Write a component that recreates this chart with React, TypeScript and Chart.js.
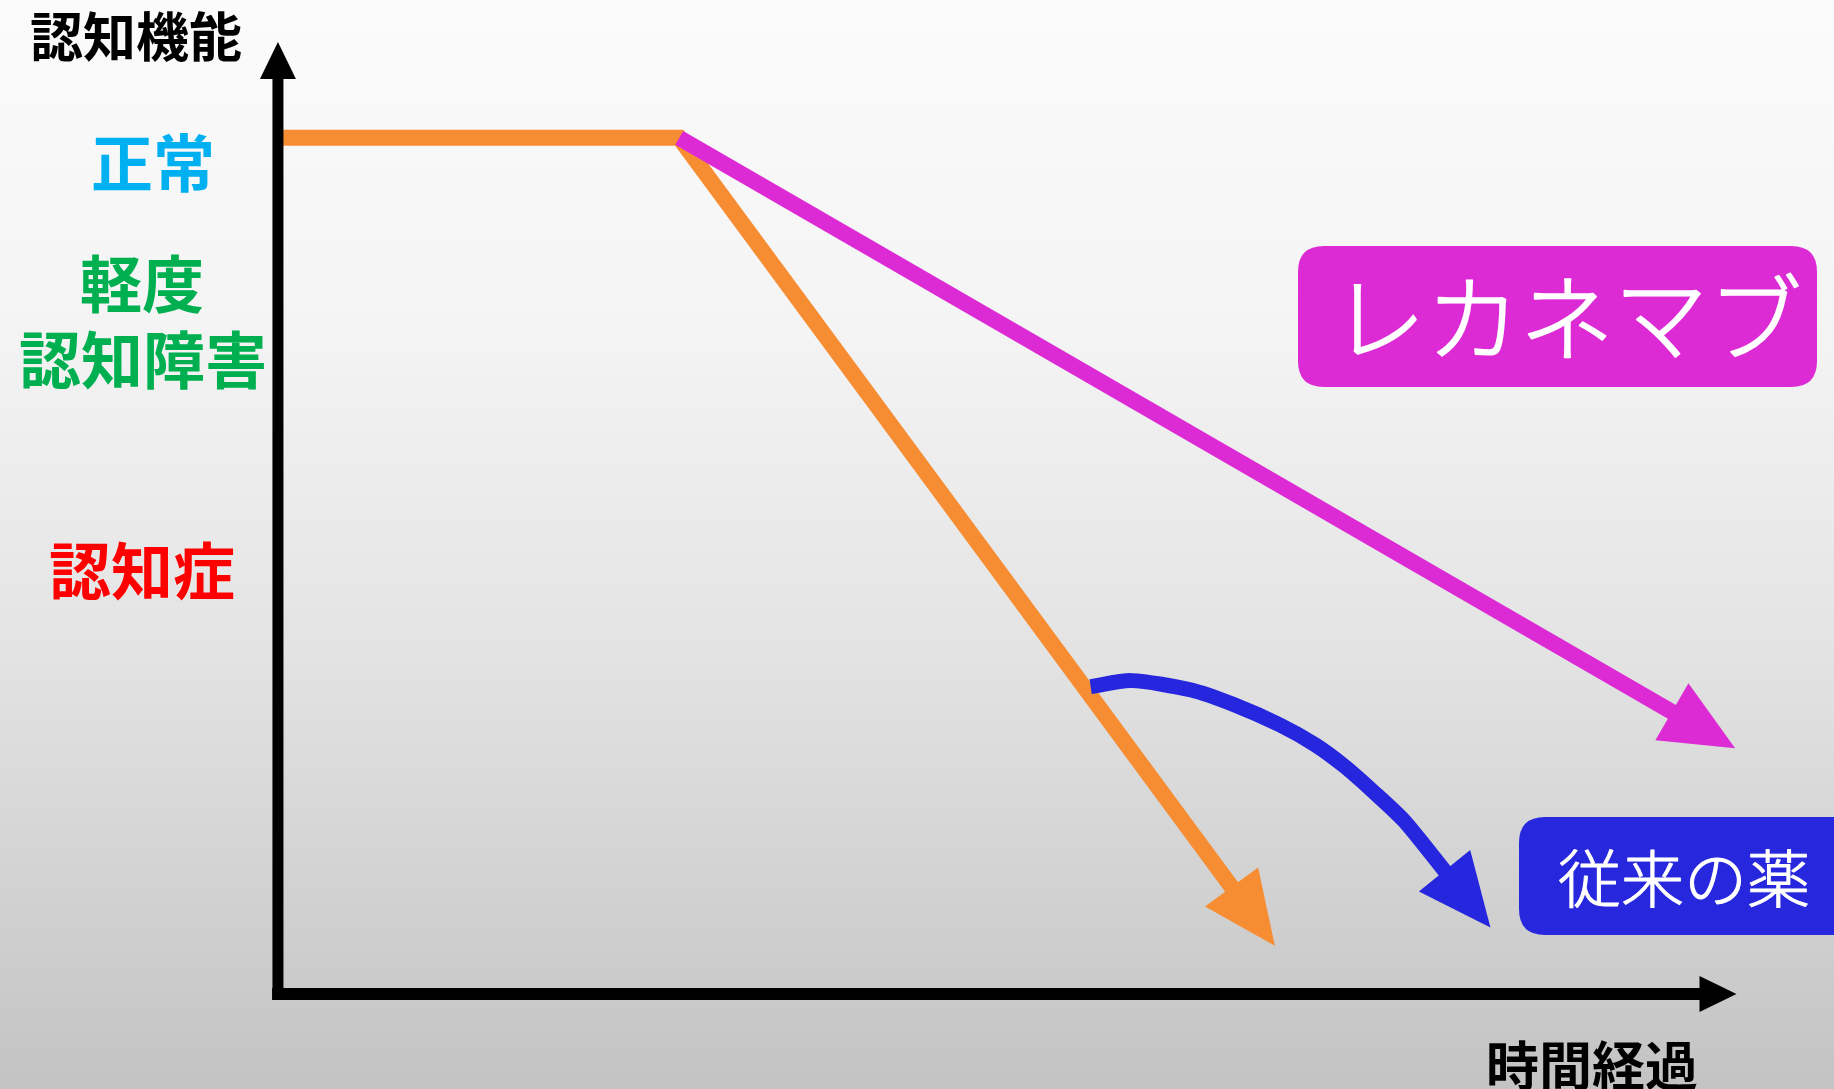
import React, { useEffect, useRef } from 'react';
import { Chart, registerables } from 'chart.js';

Chart.register(...registerables);

const W = 1834;
const H = 1089;

// Abstract units: time (x) and cognitive function (y, 100 = normal)
const X_MIN = -19.05;
const X_MAX = 106.65;
const Y_MIN = -11.1;
const Y_MAX = 116.1;

// Axes (line body ends at arrow base)
const AXIS_TIME_T = [-0.4, 97.5];
const AXIS_TIME_C = [0, 0];
const AXIS_COG_T = [0, 0];
const AXIS_COG_C = [-0.7, 107.0];

// Natural course (orange)
const NATURAL_T = [0, 27.5, 65.4];
const NATURAL_C = [100, 100, 12.4];

// Lecanemab (magenta)
const LECANEMAB_T = [27.5, 95.6];
const LECANEMAB_C = [100, 32.9];

// Conventional drugs (blue)
const CONVENTIONAL_T = [55.7, 58.5, 62.6, 65.5, 68.7, 71.1, 73.1, 75.1, 77.2, 80.0];
const CONVENTIONAL_C = [35.9, 36.6, 35.5, 33.8, 31.4, 29.1, 26.6, 23.6, 20.2, 14.3];

// Text
const Y_TITLE = '認知機能';
const X_TITLE = '時間経過';
const LEVEL_LABELS = ['正常', '軽度', '認知障害', '認知症'];
const LECANEMAB_LABEL = 'レカネマブ';
const CONVENTIONAL_LABEL = '従来の薬';

const FONT = '"Noto Sans CJK JP", "Noto Sans", sans-serif';

const pts = (ts: number[], cs: number[]) => ts.map((t, i) => ({ x: t, y: cs[i] }));

const bgPlugin = {
  id: 'bgGradient',
  beforeDraw(chart: any) {
    const ctx = chart.ctx;
    const g = ctx.createLinearGradient(0, 0, 0, H);
    g.addColorStop(0, '#fbfbfb');
    g.addColorStop(0.3, '#f4f4f4');
    g.addColorStop(0.6, '#e3e3e3');
    g.addColorStop(1, '#c3c3c3');
    ctx.save();
    ctx.fillStyle = g;
    ctx.fillRect(0, 0, chart.width, chart.height);
    ctx.restore();
  },
};

const arrowPlugin = {
  id: 'arrowHeads',
  afterDatasetDraw(chart: any, args: any) {
    const ds = chart.data.datasets[args.index];
    const head = ds.head;
    if (!head) return;
    const el = args.meta.data;
    const n = el.length;
    if (n < 2) return;
    const a = el[n - 2];
    const b = el[n - 1];
    const dx = b.x - a.x;
    const dy = b.y - a.y;
    const len = Math.hypot(dx, dy) || 1;
    const ux = dx / len;
    const uy = dy / len;
    const px = -uy;
    const py = ux;
    const tipX = b.x + ux * head.length;
    const tipY = b.y + uy * head.length;
    const bx = b.x - ux * 1;
    const by = b.y - uy * 1;
    const ctx = chart.ctx;
    ctx.save();
    ctx.fillStyle = ds.borderColor;
    ctx.beginPath();
    ctx.moveTo(tipX, tipY);
    ctx.lineTo(bx + px * head.half, by + py * head.half);
    ctx.lineTo(bx - px * head.half, by - py * head.half);
    ctx.closePath();
    ctx.fill();
    ctx.restore();
  },
};

function roundRect(ctx: CanvasRenderingContext2D, x: number, y: number, w: number, h: number, r: number) {
  ctx.beginPath();
  ctx.moveTo(x + r, y);
  ctx.lineTo(x + w - r, y);
  ctx.quadraticCurveTo(x + w, y, x + w, y + r);
  ctx.lineTo(x + w, y + h - r);
  ctx.quadraticCurveTo(x + w, y + h, x + w - r, y + h);
  ctx.lineTo(x + r, y + h);
  ctx.quadraticCurveTo(x, y + h, x, y + h - r);
  ctx.lineTo(x, y + r);
  ctx.quadraticCurveTo(x, y, x + r, y);
  ctx.closePath();
}

const textPlugin = {
  id: 'labels',
  afterDraw(chart: any) {
    const ctx: CanvasRenderingContext2D = chart.ctx;
    ctx.save();
    ctx.textAlign = 'center';
    ctx.textBaseline = 'middle';
    ctx.lineJoin = 'round';
    const put = (s: string, x: number, y: number, size: number, color: string, weight: string, stroke = 0) => {
      ctx.font = `${weight} ${size}px ${FONT}`;
      ctx.fillStyle = color;
      ctx.fillText(s, x, y);
      if (stroke > 0) {
        ctx.strokeStyle = color;
        ctx.lineWidth = stroke;
        ctx.strokeText(s, x, y);
      }
    };
    put(Y_TITLE, 136, 37, 53, '#000000', 'bold');
    put(X_TITLE, 1592, 1066, 53, '#000000', 'bold');
    put(LEVEL_LABELS[0], 153, 163, 62, '#00B0F0', 'bold');
    put(LEVEL_LABELS[1], 142, 284, 62, '#00B050', 'bold');
    put(LEVEL_LABELS[2], 143, 360, 62, '#00B050', 'bold');
    put(LEVEL_LABELS[3], 142, 571, 62, '#FF0000', 'bold');

    ctx.fillStyle = '#DC2BD4';
    roundRect(ctx, 1298, 246, 519, 141, 26);
    ctx.fill();
    put(LECANEMAB_LABEL, 1567, 318, 94, '#ffffff', '300', 1.6);

    ctx.fillStyle = '#2727DD';
    roundRect(ctx, 1519, 817, 340, 118, 26);
    ctx.fill();
    put(CONVENTIONAL_LABEL, 1684, 878, 63, '#ffffff', '300', 1);
    ctx.restore();
  },
};

export default function App() {
  const ref = useRef<HTMLCanvasElement | null>(null);

  useEffect(() => {
    if (!ref.current) return;
    const common = {
      pointRadius: 0,
      borderCapStyle: 'butt' as const,
      borderJoinStyle: 'miter' as const,
      tension: 0,
      fill: false,
    };
    const chart = new Chart(ref.current, {
      type: 'line',
      data: {
        datasets: [
          { ...common, data: pts(AXIS_COG_T, AXIS_COG_C), borderColor: '#000000', borderWidth: 11, head: { length: 36, half: 18 } } as any,
          { ...common, data: pts(AXIS_TIME_T, AXIS_TIME_C), borderColor: '#000000', borderWidth: 12, head: { length: 36, half: 18 } } as any,
          { ...common, data: pts(LECANEMAB_T, LECANEMAB_C), borderColor: '#DC2BD4', borderWidth: 16, head: { length: 72, half: 33 } } as any,
          { ...common, data: pts(CONVENTIONAL_T, CONVENTIONAL_C), borderColor: '#2626DE', borderWidth: 15, tension: 0.25, borderJoinStyle: 'round', head: { length: 72, half: 33 } } as any,
          { ...common, data: pts(NATURAL_T, NATURAL_C), borderColor: '#F78D33', borderWidth: 16, head: { length: 72, half: 33 } } as any,
        ],
      },
      options: {
        animation: false,
        responsive: false,
        maintainAspectRatio: false,
        devicePixelRatio: 1,
        layout: { padding: 0 },
        events: [],
        plugins: { legend: { display: false }, tooltip: { enabled: false }, title: { display: false } },
        scales: {
          x: { type: 'linear', min: X_MIN, max: X_MAX, display: false },
          y: { type: 'linear', min: Y_MIN, max: Y_MAX, display: false },
        },
      },
      plugins: [bgPlugin, arrowPlugin, textPlugin],
    });
    return () => chart.destroy();
  }, []);

  return (
    <div style={{ position: 'fixed', left: 0, top: 0, width: W, height: H }}>
      <canvas ref={ref} width={W} height={H} style={{ display: 'block', width: W, height: H }} />
    </div>
  );
}
